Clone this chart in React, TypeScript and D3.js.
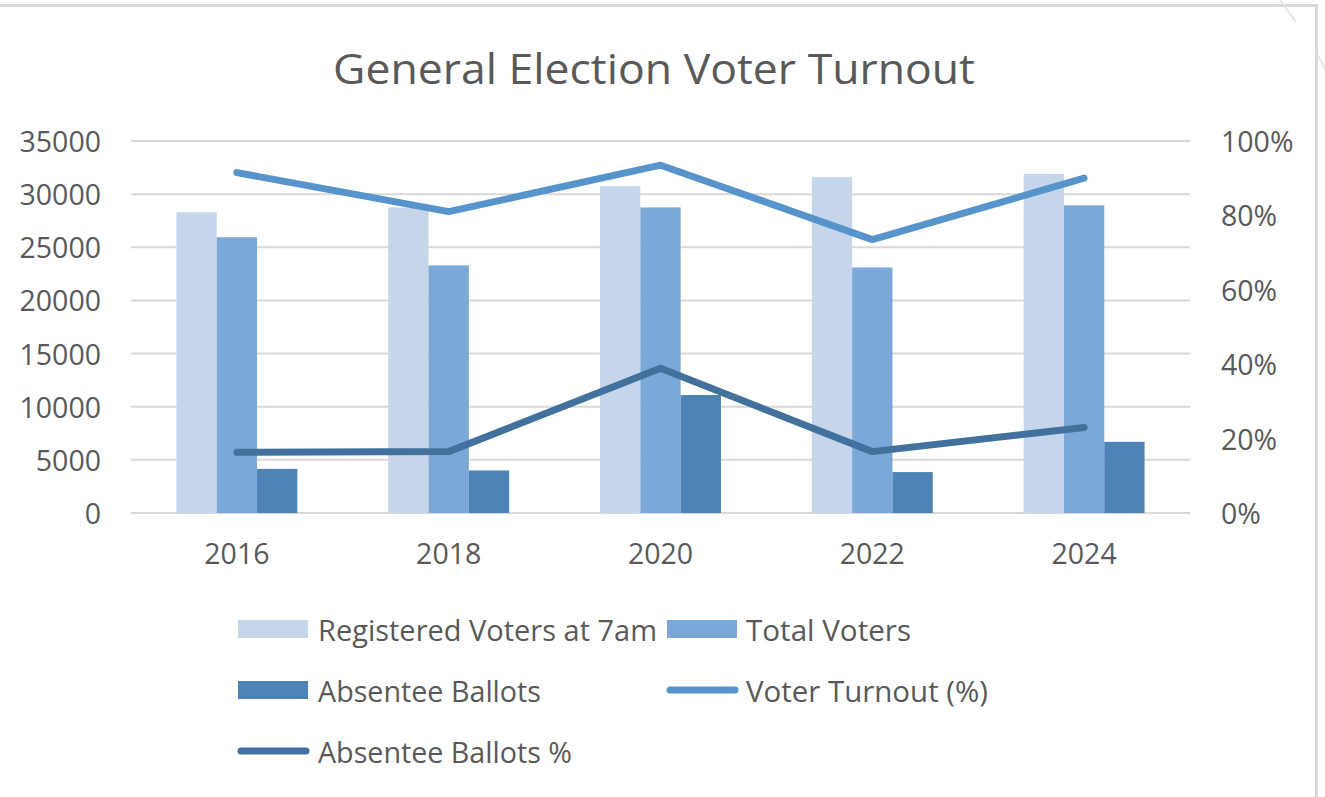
import React from "react";
import * as d3 from "d3";

const years = ["2016", "2018", "2020", "2022", "2024"];
const registeredVoters = [28300, 28750, 30750, 31600, 31900];
const totalVoters = [25950, 23300, 28750, 23100, 28950];
const absenteeBallots = [4150, 4000, 11100, 3850, 6700];
const voterTurnoutPct = [0.915, 0.81, 0.935, 0.735, 0.9];
const absenteePct = [0.163, 0.165, 0.389, 0.165, 0.23];
const leftTicks = [0, 5000, 10000, 15000, 20000, 25000, 30000, 35000];
const rightTicks = [0, 0.2, 0.4, 0.6, 0.8, 1.0];

const barSeries = [
  { name: "Registered Voters at 7am", values: registeredVoters, color: "#C5D5EA" },
  { name: "Total Voters", values: totalVoters, color: "#7CA8D8" },
  { name: "Absentee Ballots", values: absenteeBallots, color: "#4E83B5" },
];
const lineSeries = [
  { name: "Voter Turnout (%)", values: voterTurnoutPct, color: "#5894CC" },
  { name: "Absentee Ballots %", values: absenteePct, color: "#41719C" },
];

const W = 1325;
const H = 797;
const plot = { left: 131, right: 1190, top: 141, bottom: 513 };
const TEXT = "#595959";
const NUM_FONT = "'Open Sans', 'Noto Sans', sans-serif";
const LAB_FONT = "'Liberation Sans Narrow', 'Open Sans', sans-serif";

export default function App() {
  const x = d3.scaleBand<string>().domain(years).range([plot.left, plot.right]).padding(0);
  const groupFrac = 0.571;
  const inner = d3
    .scaleBand<number>()
    .domain([0, 1, 2])
    .range([0, x.bandwidth() * groupFrac])
    .padding(0);
  const groupOffset = (x.bandwidth() * (1 - groupFrac)) / 2;
  const yL = d3.scaleLinear().domain([0, 35000]).range([plot.bottom, plot.top]);
  const yR = d3.scaleLinear().domain([0, 1]).range([plot.bottom, plot.top]);
  const cx = (y: string) => (x(y) as number) + x.bandwidth() / 2;

  const lineGen = (vals: number[]) =>
    d3
      .line<number>()
      .x((_, i) => cx(years[i]))
      .y((v) => yR(v))(vals) as string;

  const legendItems = [
    { kind: "bar", s: barSeries[0], sx: 238, tx: 318, y: 629, tw: 339 },
    { kind: "bar", s: barSeries[1], sx: 667, tx: 746, y: 629, tw: 165 },
    { kind: "bar", s: barSeries[2], sx: 238, tx: 318, y: 690, tw: 223 },
    { kind: "line", s: lineSeries[0], sx: 667, tx: 746, y: 690, tw: 242 },
    { kind: "line", s: lineSeries[1], sx: 238, tx: 318, y: 751, tw: 254 },
  ];

  return (
    <svg
      width={W}
      height={H}
      style={{ position: "absolute", left: 0, top: 0, background: "#fff" }}
    >
      <rect x={0} y={0} width={W} height={H} fill="#fff" />
      {/* outer frame */}
      <line x1={0} y1={5.5} x2={1317} y2={5.5} stroke="#D9D9D9" strokeWidth={3} />
      <line x1={1316.5} y1={4} x2={1316.5} y2={H} stroke="#D9D9D9" strokeWidth={3} />
      <path d="M1280,0 L1296,22" stroke="#E6E6E6" strokeWidth={2} fill="none" />
      <path d="M1318,55 L1325,70" stroke="#E6E6E6" strokeWidth={2} fill="none" />

      {/* title */}
      <text
        x={654}
        y={67}
        textAnchor="middle"
        dominantBaseline="central"
        fontFamily={LAB_FONT}
        fontSize={42}
        fill={TEXT}
        textLength={642}
        lengthAdjust="spacingAndGlyphs"
      >
        General Election Voter Turnout
      </text>

      {/* gridlines */}
      {leftTicks.map((t) => (
        <line
          key={"g" + t}
          x1={plot.left}
          x2={plot.right}
          y1={yL(t)}
          y2={yL(t)}
          stroke="#D9D9D9"
          strokeWidth={2}
        />
      ))}

      {/* left axis labels */}
      {leftTicks.map((t) => (
        <text
          key={"l" + t}
          x={101}
          y={yL(t)}
          textAnchor="end"
          dominantBaseline="central"
          fontFamily={NUM_FONT}
          fontSize={28.5}
          fill={TEXT}
        >
          {t}
        </text>
      ))}

      {/* right axis labels */}
      {rightTicks.map((t) => (
        <text
          key={"r" + t}
          x={1221}
          y={yR(t)}
          textAnchor="start"
          dominantBaseline="central"
          fontFamily={NUM_FONT}
          fontSize={28.5}
          fill={TEXT}
        >
          {d3.format(".0%")(t)}
        </text>
      ))}

      {/* x labels */}
      {years.map((yv) => (
        <text
          key={"x" + yv}
          x={cx(yv)}
          y={553}
          textAnchor="middle"
          dominantBaseline="central"
          fontFamily={NUM_FONT}
          fontSize={28.5}
          fill={TEXT}
        >
          {yv}
        </text>
      ))}

      {/* bars */}
      {barSeries.map((s, si) =>
        s.values.map((v, i) => {
          const bx = (x(years[i]) as number) + groupOffset + (inner(si) as number);
          return (
            <rect
              key={s.name + i}
              x={bx}
              y={yL(v)}
              width={inner.bandwidth()}
              height={plot.bottom - yL(v)}
              fill={s.color}
            />
          );
        })
      )}

      {/* lines */}
      {lineSeries.map((s) => (
        <path
          key={s.name}
          d={lineGen(s.values)}
          fill="none"
          stroke={s.color}
          strokeWidth={7}
          strokeLinecap="round"
          strokeLinejoin="round"
        />
      ))}

      {/* legend */}
      {legendItems.map((it) => (
        <g key={it.s.name}>
          {it.kind === "bar" ? (
            <rect x={it.sx} y={it.y - 9} width={70} height={18} fill={it.s.color} />
          ) : (
            <line
              x1={it.sx + 3}
              x2={it.sx + 68}
              y1={it.y}
              y2={it.y}
              stroke={it.s.color}
              strokeWidth={7}
              strokeLinecap="round"
            />
          )}
          <text
            x={it.tx}
            y={it.y}
            dominantBaseline="central"
            fontFamily={LAB_FONT}
            fontSize={30}
            fill={TEXT}
            textLength={it.tw}
            lengthAdjust="spacingAndGlyphs"
          >
            {it.s.name}
          </text>
        </g>
      ))}
    </svg>
  );
}
